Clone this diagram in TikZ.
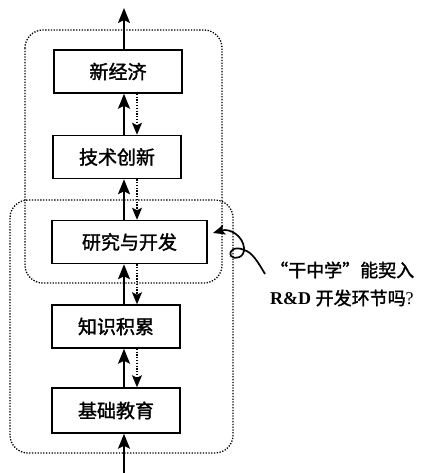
\documentclass[tikz,border=0pt]{standalone}
\usepackage{fontspec}
\setmainfont{Liberation Serif}
\newfontfamily\cjk[FakeBold=1.6]{Noto Sans CJK SC}
\usetikzlibrary{arrows.meta}
\begin{document}
\begin{tikzpicture}[x=1pt,y=-1pt,
  stagebox/.style={draw,line width=1.5pt,minimum height=43pt,inner sep=0pt,font=\cjk\fontsize{19}{19}\selectfont},
  solidarrow/.style={line width=2pt,-{Stealth[length=15pt,width=12pt,inset=3pt]}},
  dotarrow/.style={line width=1.3pt,dash pattern=on 1.3pt off 1.5pt,-{Stealth[length=12pt,width=10pt,inset=2.5pt,sep=0pt]}},
  dotbox/.style={line width=1.3pt,dash pattern=on 1.3pt off 1.5pt,rounded corners=18pt},
  lbl/.style={anchor=west,inner sep=0pt,font=\fontsize{18}{18}\selectfont}]
\useasboundingbox (0,0) rectangle (436,473);
\fill[white] (0,0) rectangle (436,473);
% dotted groups
\draw[dotbox] (25,30) rectangle (222,283);
\draw[dotbox] (10,200) rectangle (233,453);
% boxes
\node[stagebox,minimum width=128pt] (n1) at (118,71.5) {新经济};
\node[stagebox,minimum width=128pt] (n2) at (117,157) {技术创新};
\node[stagebox,minimum width=155pt] (n3) at (129.5,242) {研究与开发};
\node[stagebox,minimum width=128pt] (n4) at (116,326.5) {知识积累};
\node[stagebox,minimum width=128pt,minimum height=45pt] (n5) at (116,410.5) {基础教育};
\coordinate (up) at (124,0);
\coordinate (dn) at (137,0);
\coordinate (top) at (124,8);
\coordinate (bot) at (124,473);
% solid up arrows
\draw[solidarrow] (n1.north -| up) -- (top);
\draw[solidarrow] (n2.north -| up) -- (n1.south -| up);
\draw[solidarrow] (n3.north -| up) -- (n2.south -| up);
\draw[solidarrow] (n4.north -| up) -- (n3.south -| up);
\draw[solidarrow] (n5.north -| up) -- (n4.south -| up);
\draw[solidarrow] (bot) -- (n5.south -| up);
% dotted down arrows
\draw[dotarrow] (n1.south -| dn) -- (n2.north -| dn);
\draw[dotarrow] (n2.south -| dn) -- (n3.north -| dn);
\draw[dotarrow] (n3.south -| dn) -- (n4.north -| dn);
\draw[dotarrow] (n4.south -| dn) -- (n5.north -| dn);
% label
\node[lbl] (l1) at (270,270) {\cjk “干中学”能契入};
\node[lbl] (l2) at (270,298) {{\bfseries R\&D} {\cjk 开发环节吗}?};
\coordinate (tail) at (265,274);
\coordinate (tip) at (213,233);
\draw[line width=1.7pt,-{Stealth[length=12pt,width=10pt,inset=2.5pt]}] (tail) .. controls (258,262) and (252,252) .. (244,250) .. controls (236,246) and (228,250) .. (231,256) .. controls (234,260) and (245,258) .. (244,248) .. controls (243,236) and (230,228) .. (tip);
\end{tikzpicture}
\end{document}
